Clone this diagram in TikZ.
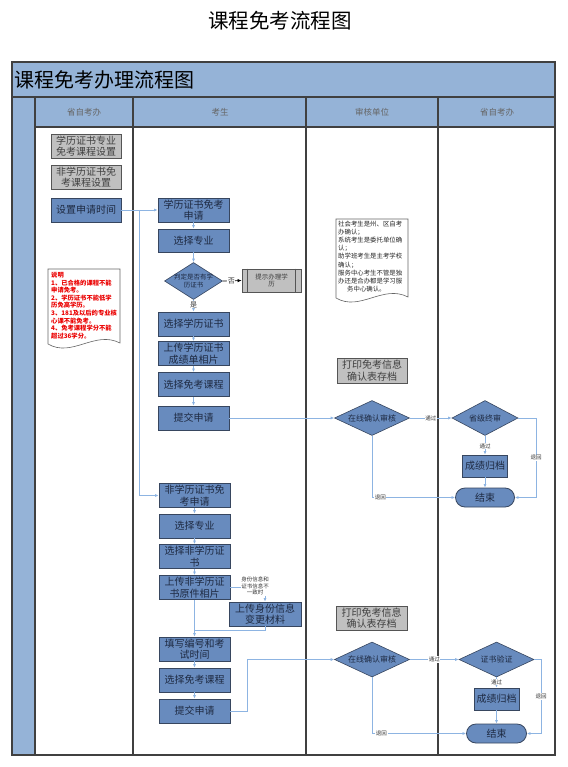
\documentclass[tikz,border=0pt]{standalone}
\usepackage{fontspec}
\setmainfont{Noto Sans CJK SC}
\usetikzlibrary{shapes.geometric,arrows.meta}
\definecolor{hdr}{RGB}{149,179,215}
\definecolor{boxblue}{RGB}{104,139,190}
\definecolor{boxborder}{RGB}{55,70,95}
\definecolor{boxgray}{RGB}{192,192,192}
\definecolor{grayborder}{RGB}{85,85,85}
\definecolor{connc}{RGB}{141,180,226}
\definecolor{framec}{RGB}{64,64,64}
\definecolor{boxtext}{RGB}{30,42,66}
\definecolor{notered}{RGB}{235,0,0}
\tikzset{
  bluebox/.style={draw=boxborder, line width=0.8pt, fill=boxblue, text=boxtext, inner sep=0pt, align=center,
    minimum width=71pt, minimum height=24pt, font=\fontsize{10}{11.5}\selectfont},
  graybox/.style={draw=grayborder, line width=0.8pt, fill=boxgray, text=black!75, inner sep=0pt, align=center,
    minimum width=70pt, minimum height=24pt, font=\fontsize{10}{11.5}\selectfont},
  dia/.style={draw=boxborder, line width=0.6pt, fill=boxblue, shape=diamond, inner sep=0pt,
    minimum width=75pt, minimum height=35pt},
  dtext/.style={text=boxtext, font=\fontsize{8}{9}\selectfont, align=center},
  termbox/.style={draw=boxborder, line width=0.8pt, fill=boxblue, text=boxtext, rounded corners=9.5pt, inner sep=0pt,
    minimum width=59pt, minimum height=19pt, font=\fontsize{10}{11}\selectfont},
  conn/.style={draw=connc, line width=0.8pt, -{Latex[length=3.5pt,width=3pt]}},
  connplain/.style={draw=connc, line width=0.8pt},
  clabel/.style={fill=white, inner sep=0.6pt, text=black!80, font=\fontsize{5.5}{6}\selectfont, align=center},
  framel/.style={draw=framec, line width=1.3pt},
  colhead/.style={text=black!60, font=\fontsize{8.5}{9}\selectfont},
}
\begin{document}
\begin{tikzpicture}[x=1pt,y=-1pt]
\useasboundingbox (0,0) rectangle (567,767);
\fill[white] (0,0) rectangle (567,767);
% top title
\node[font=\fontsize{20.5}{21}\selectfont] (maintitle) at (280,21) {课程免考流程图};
% frame
\fill[hdr] (12,62) rectangle (555,97);
\fill[hdr] (35,97) rectangle (555,127);
\fill[hdr] (12,97) rectangle (35,755);
\node[anchor=west, font=\fontsize{20}{21}\selectfont, inner sep=0pt] (bandtitle) at (14,80) {课程免考办理流程图};
\draw[framel] (12,62) rectangle (555,755);
\draw[framel] (12,97) -- (555,97);
\draw[framel] (35,127) -- (555,127);
\draw[framel] (35,97) -- (35,755);
\draw[framel] (133,97) -- (133,755);
\draw[framel] (306,97) -- (306,755);
\draw[framel] (438,97) -- (438,755);
\node[colhead] (h1) at (84,112) {省自考办};
\node[colhead] (h2) at (220,112) {考生};
\node[colhead] (h3) at (372,112) {审核单位};
\node[colhead] (h4) at (497,112) {省自考办};

% column 1
\node[graybox] (g1) at (86,146) {学历证书专业\\免考课程设置};
\node[graybox] (g2) at (86,177) {非学历证书免\\考课程设置};
\node[bluebox, minimum width=70pt] (s0) at (86,210) {设置申请时间};
% red note
\draw[draw=black!60, line width=0.6pt, fill=white] (48,269) -- (120,269) -- (120,343)
  .. controls (95,330) and (72,358) .. (48,344) -- cycle;
\node[anchor=north west, text=notered, inner sep=0pt, align=left, font=\bfseries\fontsize{6.3}{7.6}\selectfont] (rednote) at (51,272)
 {说明\\1、已合格的课程不能\\申请免考。\\2、学历证书不能低学\\历免高学历。\\3、181及以后的专业核\\心课不能免考。\\4、免考课程学分不能\\超过36学分。};

% column 2 upper
\node[bluebox] (a1) at (193.5,210) {学历证书免考\\申请};
\node[bluebox, minimum height=23pt] (a2) at (193.5,240.5) {选择专业};
\node[dia, minimum width=58pt, minimum height=37pt] (d1) at (193.5,281) {};
\node[dtext, font=\fontsize{6.5}{7.5}\selectfont] (d1t) at (d1.center) {判定是否有学\\历证书};
\node[graybox, minimum width=59pt, minimum height=23pt, font=\fontsize{6.5}{7.5}\selectfont] (pp) at (271.5,280.5) {提示办理学\\历};
\draw[grayborder, line width=0.8pt] ([xshift=6pt]pp.north west) -- ([xshift=6pt]pp.south west);
\draw[grayborder, line width=0.8pt] ([xshift=-6pt]pp.north east) -- ([xshift=-6pt]pp.south east);
\node[bluebox] (a3) at (193.5,324) {选择学历证书};
\node[bluebox] (a4) at (193.5,353.5) {上传学历证书\\成绩单相片};
\node[bluebox] (a5) at (193.5,384.5) {选择免考课程};
\node[bluebox] (a6) at (193.5,418) {提交申请};

% column 2 lower
\node[bluebox] (b1) at (194.5,495.5) {非学历证书免\\考申请};
\node[bluebox] (b2) at (194.5,526) {选择专业};
\node[bluebox] (b3) at (194.5,556.5) {选择非学历证\\书};
\node[bluebox] (b4) at (194.5,587.5) {上传非学历证\\书原件相片};
\node[bluebox, minimum width=72pt] (b5) at (265,614) {上传身份信息\\变更材料};
\node[bluebox] (b6) at (194.5,649) {填写编号和考\\试时间};
\node[bluebox] (b7) at (194.5,680) {选择免考课程};
\node[bluebox] (b8) at (194.5,711) {提交申请};

% column 3
\draw[draw=black!60, line width=0.6pt, fill=white] (336,219) -- (408,219) -- (408,297)
  .. controls (383,284) and (360,312) .. (336,298) -- cycle;
\node[anchor=north west, text=black!85, inner sep=0pt, align=left, font=\fontsize{6.4}{8.1}\selectfont] (note2) at (338,221)
 {社会考生是州、区自考\\办确认；\\系统考生是委托单位确\\认；\\助学班考生是主考学校\\确认；\\服务中心考生不管是独\\办还是合办都是学习服\\\hspace*{9pt}务中心确认。};
\node[graybox, minimum height=25pt] (p1) at (372,370.5) {打印免考信息\\确认表存档};
\node[dia] (c1) at (372,418) {};
\node[dtext] (c1t) at (c1.center) {在线确认审核};
\node[graybox, minimum width=71pt] (p2) at (371.5,618) {打印免考信息\\确认表存档};
\node[dia] (c2) at (372,659.5) {};
\node[dtext] (c2t) at (c2.center) {在线确认审核};

% column 4
\node[dia, minimum width=66pt] (e1) at (485,418) {};
\node[dtext] (e1t) at (e1.center) {省级终审};
\node[bluebox, minimum width=45pt, minimum height=22pt] (f1) at (485,466) {成绩归档};
\node[termbox] (t1) at (485,497.5) {结束};
\node[dia] (e2) at (496.5,659.5) {};
\node[dtext] (e2t) at (e2.center) {证书验证};
\node[bluebox, minimum width=45pt, minimum height=22pt] (f2) at (496.5,699) {成绩归档};
\node[termbox, minimum width=60pt] (t2) at (496.5,733.5) {结束};

% connectors upper
\coordinate (j1) at (139,210);
\draw[conn] (s0) -- (a1);
\draw[conn] (j1) |- (b1.west);
\draw[conn] (a1) -- (a2);
\draw[conn] (a2) -- (d1);
\draw[conn] (d1) -- node[clabel, font=\fontsize{7}{8}\selectfont, pos=0.4] {是} (a3);
\draw[draw=black, line width=0.7pt, -{Latex[length=4pt,width=3.5pt]}] (d1.east) -- node[clabel, font=\fontsize{7}{8}\selectfont, pos=0.45] {否} (pp.west);
\draw[conn] (a3) -- (a4);
\draw[conn] (a4) -- (a5);
\draw[conn] (a5) -- (a6);
\draw[conn] (a6.east) -- (c1.west);
\draw[conn] (c1.east) -- node[clabel] {通过} (e1.west);
\draw[conn] (e1.south) -- node[clabel, pos=0.55] {通过} (f1.north);
\draw[conn] (f1) -- (t1);
\draw[conn] (c1.south) |- node[clabel, pos=0.55] {退回} (t1.west);
\coordinate (r1) at (536,418);
\draw[conn] (e1.east) -- (r1) |- node[clabel, pos=0.25] {退回} (t1.east);

% connectors lower
\draw[conn] (b1) -- (b2);
\draw[conn] (b2) -- (b3);
\draw[conn] (b3) -- (b4);
\coordinate (k1) at (265,587.5);
\draw[conn] (b4.east) -- (k1) -- (b5.north);
\node[clabel, font=\fontsize{5.5}{6.7}\selectfont, inner sep=0.3pt] (idlabel) at (255,586) {身份信息和\\证书信息不\\一致时};
\coordinate (m1) at (194.5,630);
\draw[connplain] (b5.south) |- (m1);
\draw[conn] (b4) -- (b6);
\draw[conn] (b6) -- (b7);
\draw[conn] (b7) -- (b8);
\coordinate (j2) at (247,711);
\draw[conn] (b8.east) -- (j2) |- (c2.west);
\draw[conn] (c2.east) -- node[clabel] {通过} (e2.west);
\draw[conn] (e2.south) -- node[clabel, pos=0.45] {通过} (f2.north);
\draw[conn] (f2) -- (t2);
\draw[conn] (c2.south) |- node[clabel, pos=0.55] {退回} (t2.west);
\coordinate (r2) at (541,659.5);
\draw[conn] (e2.east) -- (r2) |- node[clabel, pos=0.25] {退回} (t2.east);
\end{tikzpicture}
\end{document}
